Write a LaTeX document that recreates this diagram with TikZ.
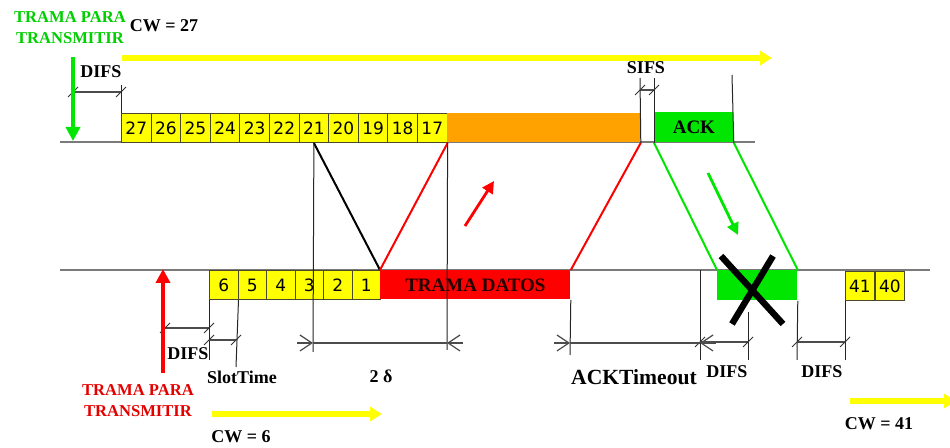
\documentclass[tikz,border=0pt]{standalone}
\usepackage{fontspec}
\setmainfont{Liberation Serif}
\newfontfamily\numfont{DejaVu Sans}
\usetikzlibrary{calc, arrows.meta}

\definecolor{cyel}{HTML}{FFFF00}
\definecolor{cgreen}{HTML}{00E600}
\definecolor{cred}{HTML}{FF0000}
\definecolor{corange}{HTML}{FFA200}
\definecolor{boxline}{HTML}{4A4A2A}
\definecolor{tline}{HTML}{7A7A7A}

\begin{document}
\begin{tikzpicture}[x=0.5pt, y=-0.5pt,
  slot/.style={draw=boxline, fill=cyel, line width=0.5pt, inner sep=0pt,
    anchor=north west, minimum height=14.5pt,
    font=\numfont\fontsize{8.5}{9}\selectfont},
  frame/.style={inner sep=0pt, anchor=north west, minimum height=14.5pt,
    font=\bfseries\fontsize{9.5}{10}\selectfont},
  lbl/.style={font=\bfseries\fontsize{9}{10}\selectfont, inner sep=0pt},
  guide/.style={black!85, line width=0.5pt},
  dimline/.style={black!70, line width=0.6pt},
  wire/.style={line width=1pt},
  cwarrow/.style={cyel, line width=2.6pt, -{Triangle[length=6pt,width=7pt]}},
  txarrow/.style={line width=2pt, -{Triangle[length=7pt,width=7pt]}},
  dimtick/.pic={\draw[black!80, line width=0.5pt] (-5,5) -- (5,-5);}]

  \useasboundingbox[fill=white] (0,0) rectangle (950,448);

  % lineas de tiempo
  \coordinate (tl) at (60,142);
  \coordinate (tr) at (755,142);
  \coordinate (bl) at (60,270);
  \coordinate (br) at (930,270);
  \draw[tline, line width=1pt] (tl) -- (tr);
  \draw[tline, line width=1pt] (bl) -- (br);

  % estacion de arriba
  \foreach \n [count=\i from 0] in {27,26,...,17}
    \node[slot, minimum width=14.8pt] (t\n) at (121+29.6*\i,113) {\n};
  \node[frame, fill=corange, minimum width=96.5pt] (busy) at (447,113) {};
  \node[frame, fill=cgreen, minimum width=39.5pt, minimum height=15pt] (ack) at (654,112) {ACK};

  % estacion de abajo
  \foreach \n [count=\i from 0] in {6,5,...,1}
    \node[slot, minimum width=14.25pt] (b\n) at (209+28.5*\i,270) {\n};
  \node[frame, fill=cred, text=black!85!red, minimum width=95pt] (datos) at (380,270) {TRAMA DATOS};
  \node[frame, fill=cgreen, minimum width=40pt, minimum height=15pt] (ackrx) at (717,270) {};
  \node[slot, minimum width=14.5pt] (c41) at (845,271) {41};
  \node[slot, minimum width=14.5pt] (c40) at (c41.north east) {40};

  % propagacion
  \draw[wire, black] (t21.south) -- (datos.north west);
  \draw[wire, cred] (datos.north west) -- (t17.south east);
  \draw[wire, cred] (datos.north east) -- (busy.south east);
  \draw[wire, cgreen] (ack.south west) -- (ackrx.north west);
  \draw[wire, cgreen] (ack.south east) -- (ackrx.north east);
  \coordinate (ra) at (465,226);
  \coordinate (rb) at (494,181);
  \draw[cred, line width=1.4pt, -{Triangle[length=6pt,width=6pt]}] (ra) -- (rb);
  \coordinate (ga) at (708,173);
  \coordinate (gb) at (738,235);
  \draw[cgreen, line width=1.4pt, -{Triangle[length=6pt,width=6pt]}] (ga) -- (gb);

  % ACK perdido
  \coordinate (x1) at (721,256);
  \coordinate (x2) at (783,324);
  \coordinate (x3) at (773,256);
  \coordinate (x4) at (732,324);
  \draw[black, line width=3.2pt] (x1) -- (x2);
  \draw[black, line width=3.2pt] (x3) -- (x4);

  % guias verticales
  \coordinate (g1) at (121,85);
  \coordinate (g2) at (640,78);
  \coordinate (g3) at (654,78);
  \coordinate (g4) at (732,75);
  \draw[guide] (t27.north west) -- (g1);
  \draw[guide] (busy.south east) -- (g2);
  \draw[guide] (ack.south west) -- (g3);
  \draw[guide] (ack.south east) -- (g4);
  \coordinate (h1) at (209,360);
  \coordinate (h2) at (236,367);
  \coordinate (h3) at (313,352);
  \coordinate (h4) at (447,350);
  \coordinate (h5) at (570,355);
  \coordinate (h6top) at (700,270);
  \coordinate (h6) at (700,360);
  \coordinate (h7top) at (748,312);
  \coordinate (h7) at (748,360);
  \coordinate (h8) at (797,360);
  \coordinate (h9) at (845,360);
  \draw[guide] (b6.south west) -- (h1);
  \draw[guide] (b6.south east) -- (h2);
  \draw[guide] (t21.south) -- (h3);
  \draw[guide] (t17.south east) -- (h4);
  \draw[guide] (datos.south east) -- (h5);
  \draw[guide] (h6top) -- (h6);
  \draw[guide] (h7top) -- (h7);
  \draw[guide] (ackrx.south east) -- (h8);
  \draw[guide] (c41.south west) -- (h9);

  % cotas
  \coordinate (d1a) at (73,92);   \coordinate (d1b) at (121,92);
  \coordinate (d2a) at (640,90);  \coordinate (d2b) at (654,90);
  \coordinate (d3a) at (165,328); \coordinate (d3b) at (209,328);
  \coordinate (d4a) at (209,340); \coordinate (d4b) at (236,340);
  \coordinate (d5a) at (700,342); \coordinate (d5b) at (748,342);
  \coordinate (d6a) at (797,342); \coordinate (d6b) at (845,342);
  \foreach \k in {1,...,6} {
    \draw[dimline] (d\k a) -- (d\k b);
    \pic at (d\k a) {dimtick};
    \pic at (d\k b) {dimtick};
  }
  \coordinate (e1a) at (313,343); \coordinate (e1b) at (447,343);
  \coordinate (e2a) at (570,343); \coordinate (e2b) at (700,343);
  \foreach \k in {1,2} {
    \draw[dimline] (e\k a) -- (e\k b);
    \draw[dimline, -{Straight Barb[length=6pt,width=8pt]}] ($(e\k a)+(-16,0)$) -- (e\k a);
    \draw[dimline, -{Straight Barb[length=6pt,width=8pt]}] ($(e\k b)+(16,0)$) -- (e\k b);
  }

  % flechas de trama
  \coordinate (ta) at (73,57);
  \coordinate (tb) at (73,141);
  \draw[txarrow, cgreen] (ta) -- (tb);
  \coordinate (sa) at (163,373);
  \coordinate (sb) at (163,269);
  \draw[txarrow, cred] (sa) -- (sb);

  % ventanas de contienda
  \coordinate (w1a) at (122,58);  \coordinate (w1b) at (772,58);
  \coordinate (w2a) at (212,414); \coordinate (w2b) at (382,414);
  \coordinate (w3a) at (850,401); \coordinate (w3b) at (956,401);
  \draw[cwarrow] (w1a) -- (w1b);
  \draw[cwarrow] (w2a) -- (w2b);
  \draw[cwarrow] (w3a) -- (w3b);

  % textos
  \node[lbl, text=cgreen!90!black, align=center, font=\bfseries\fontsize{8.3}{10.5}\selectfont] (txa) at (70,28) {TRAMA PARA\\TRANSMITIR};
  \node[lbl, text=cred!90!black, align=center, font=\bfseries\fontsize{8.3}{10.5}\selectfont] (txb) at (138,401) {TRAMA PARA\\TRANSMITIR};
  \node[lbl] (cw27) at (164,26) {CW = 27};
  \node[lbl] (cw6) at (241,437) {CW = 6};
  \node[lbl] (cw41) at (879,424) {CW = 41};
  \node[lbl] (difs1) at (101,72) {DIFS};
  \node[lbl] (sifs) at (646,68) {SIFS};
  \node[lbl] (difs2) at (188,354) {DIFS};
  \node[lbl] (slot) at (242,377) {SlotTime};
  \node[lbl] (delta) at (381,376) {2 δ};
  \node[lbl, font=\bfseries\fontsize{10.8}{12}\selectfont] (acktout) at (634,377) {ACKTimeout};
  \node[lbl] (difs3) at (727,372) {DIFS};
  \node[lbl] (difs4) at (822,372) {DIFS};
\end{tikzpicture}
\end{document}
